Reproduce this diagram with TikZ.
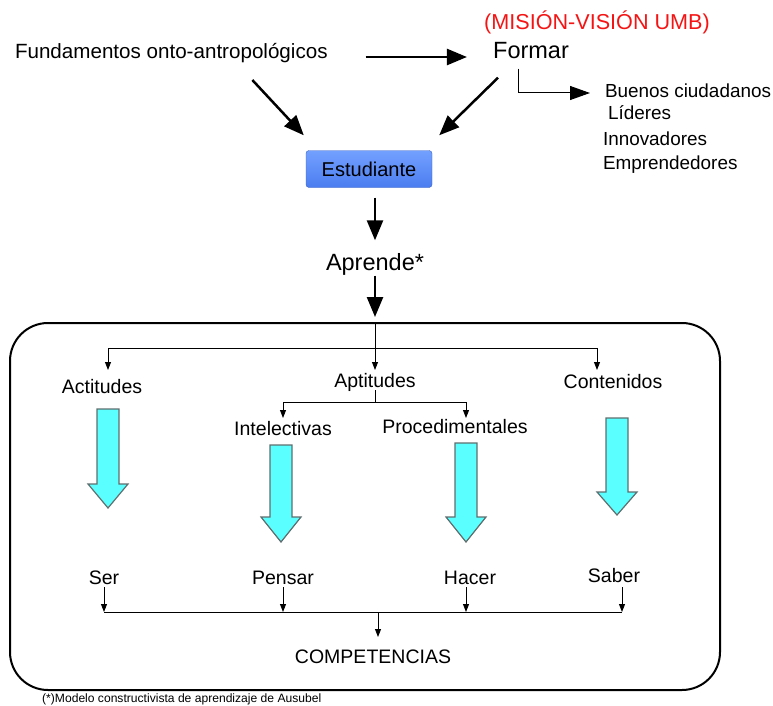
\documentclass[tikz,border=0pt]{standalone}
\usepackage{fontspec}
\setmainfont{Liberation Sans}
\usetikzlibrary{arrows.meta, positioning, calc}

\definecolor{umbred}{RGB}{245,20,20}
\definecolor{stutop}{RGB}{115,160,255}
\definecolor{stubot}{RGB}{75,125,240}
\definecolor{arrcyan}{RGB}{90,255,255}
\definecolor{arredge}{RGB}{95,110,110}

% cyan block arrow: x, top, head base, tip
\newcommand{\downblock}[4]{%
  \draw[blockarrow] (#1-11,#2) -- (#1+11,#2) -- (#1+11,#3) -- (#1+20,#3)
    -- (#1,#4) -- (#1-20,#3) -- (#1-11,#3) -- cycle;}

\begin{document}
\begin{tikzpicture}[
    x=1pt, y=-1pt,
    label/.style={inner sep=0pt, outer sep=3pt, text height=14pt, text depth=0pt, font=\fontsize{19.5}{22}\selectfont},
    biglabel/.style={inner sep=0pt, text height=17pt, text depth=0pt, font=\fontsize{23.5}{26}\selectfont},
    studbox/.style={rectangle, rounded corners=3pt, draw=stubot!80!black, top color=stutop, bottom color=stubot, minimum width=126pt, minimum height=37pt, font=\fontsize{20}{22}\selectfont},
    frame/.style={rectangle, draw, line width=2pt, rounded corners=38pt, minimum width=710pt, minimum height=367pt},
    bigarrow/.style={-{Triangle[length=20pt, width=16pt]}, line width=2.5pt},
    formarrow/.style={-{Triangle[length=20pt, width=14pt]}, line width=1pt},
    treeline/.style={line width=0.9pt},
    treetip/.style={-{Triangle[length=8pt, width=6pt]}, line width=0.9pt},
    blockarrow/.style={fill=arrcyan, draw=arredge, line width=1.2pt}
]
\useasboundingbox (0,0) rectangle (773,706);

% Top: fundamentos and mision
\node[label, anchor=west, font=\fontsize{20.6}{22}\selectfont] (fund) at (12,52) {Fundamentos onto-antropológicos};
\node[inner sep=0pt, text=umbred, font=\fontsize{21.6}{24}\selectfont] (umb) at (597,22) {(MISIÓN-VISIÓN UMB)};
\node[biglabel] (formar) at (531,50) {Formar};

% Profile list
\node[label, anchor=west, font=\fontsize{18.9}{22}\selectfont] (buenos) at (602,91) {Buenos ciudadanos};
\node[label, anchor=west, font=\fontsize{18.9}{22}\selectfont] (lideres) at (605,113) {Líderes};
\node[label, anchor=west, font=\fontsize{18.9}{22}\selectfont] (innov) at (600,138) {Innovadores};
\node[label, anchor=west, font=\fontsize{18.9}{22}\selectfont] (empr) at (600,162) {Emprendedores};

% Middle column
\node[studbox] (stud) at (369,169) {Estudiante};
\node[biglabel] (aprende) at (375,262) {Aprende*};

% Frame
\node[frame] (frame) at (365,506.5) {};

% Row 1: tipos de aprendizaje
\node[label] (act) at (102,386) {Actitudes};
\node[label] (apt) at (375,380) {Aptitudes};
\node[label] (cont) at (613,381) {Contenidos};
\node[label] (intel) at (283,428) {Intelectivas};
\node[label] (proc) at (455,426) {Procedimentales};

% Row 2: dimensiones
\node[label] (ser) at (104,577) {Ser};
\node[label] (pensar) at (283,577) {Pensar};
\node[label] (hacer) at (470,577) {Hacer};
\node[label] (saber) at (614,575) {Saber};
\node[label] (comp) at (373,656) {COMPETENCIAS};

\node[inner sep=0pt, anchor=west, font=\fontsize{12.1}{14}\selectfont] (nota) at (42,699) {(*)Modelo constructivista de aprendizaje de Ausubel};

% Arrows top
\draw[bigarrow] ([xshift=35pt,yshift=-5pt]fund.east) -- ([xshift=-26pt,yshift=-5pt]fund.east -| formar.west);
\draw[bigarrow] ([xshift=81pt,yshift=-18pt]fund.south) -- ([xshift=-2pt,yshift=15pt]stud.north west);
\draw[bigarrow] ([xshift=-33pt,yshift=-19pt]formar.south) -- ([xshift=7pt,yshift=15pt]stud.north east);
\draw[formarrow] ([xshift=-13pt,yshift=-10pt]formar.south) |- ([xshift=-12pt,yshift=-2pt]buenos.west);
\draw[bigarrow] ([xshift=6pt,yshift=-10pt]stud.south) -- ([yshift=13pt]aprende.north);
\draw[bigarrow] ([yshift=-5pt]aprende.south) -- ([yshift=5pt]aprende.south |- frame.north);

% Tree inside frame
\coordinate (ta) at (108,348);
\coordinate (tc) at (597,348);
\coordinate (ti) at (283,402);
\coordinate (tp) at (466,402);
\draw[treetip] (aprende.south |- frame.north) -- (apt.north);
\draw[treeline] (ta) -- (tc);
\draw[treetip] (ta) -- (ta |- apt.north);
\draw[treetip] (tc) -- (tc |- apt.north);
\draw[treeline] (apt.south) -- (apt.south |- ti);
\draw[treeline] (ti) -- (tp);
\draw[treetip] (ti) -- (ti |- intel.north);
\draw[treetip] (tp) -- (tp |- intel.north);

% Block arrows
\downblock{108}{409}{484}{508}
\downblock{281}{445}{517}{542}
\downblock{466}{443}{517}{542}
\downblock{617}{418}{492}{515}

% Bottom bar
\coordinate (b1) at (104,612);
\coordinate (b2) at (283,612);
\coordinate (b3) at (466,612);
\coordinate (b4) at (622,612);
\coordinate (bj) at (378,612);
\draw[treetip] (b1 |- ser.south) -- (b1);
\draw[treetip] (b2 |- ser.south) -- (b2);
\draw[treetip] (b3 |- ser.south) -- (b3);
\draw[treetip] (b4 |- ser.south) -- (b4);
\draw[treeline] (b1) -- (b4);
\draw[treetip] (bj) -- ([yshift=9pt]bj |- comp.north);

\end{tikzpicture}
\end{document}
